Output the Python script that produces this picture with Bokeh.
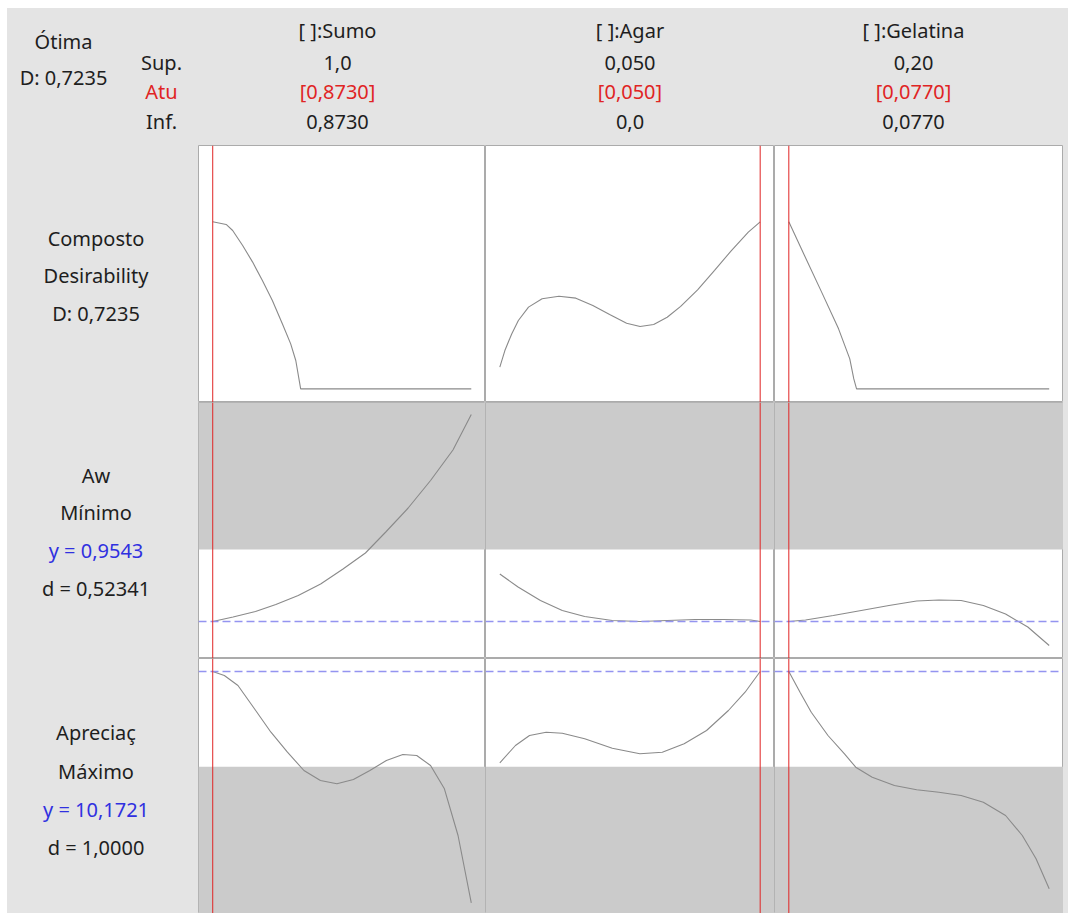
from bokeh.plotting import figure
from bokeh.models import Range1d, Span, BoxAnnotation, Spacer
from bokeh.layouts import row, column
from bokeh.embed import file_html
from bokeh.resources import INLINE
from bokeh.core.properties import value

# ---------------- data ----------------
factors = ["[ ]:Sumo", "[ ]:Agar", "[ ]:Gelatina"]
factor_low = [0.873, 0.0, 0.077]
factor_high = [1.0, 0.05, 0.20]
factor_cur = [0.873, 0.05, 0.077]
high_labels = ["1,0", "0,050", "0,20"]
cur_labels = ["[0,8730]", "[0,050]", "[0,0770]"]
low_labels = ["0,8730", "0,0", "0,0770"]

optimal_label = ["Ótima", "D: 0,7235"]
bound_labels = ["Sup.", "Atu", "Inf."]

row_labels = [
    ["Composto", "Desirability", "D: 0,7235"],
    ["Aw", "Mínimo", "y = 0,9543", "d = 0,52341"],
    ["Apreciaç", "Máximo", "y = 10,1721", "d = 1,0000"],
]

aw_y = 0.9543
aw_upper = 0.9687
apr_y = 10.1721
apr_lower = 8.266

# Composite desirability traces
comp_sumo_x = [0.873, 0.8796, 0.8828, 0.8877, 0.8926, 0.8974, 0.9023, 0.9072, 0.9113, 0.9138, 0.9162, 0.94, 0.97, 1.0]
comp_sumo_d = [0.7235, 0.712, 0.686, 0.621, 0.549, 0.469, 0.383, 0.282, 0.195, 0.123, 0.0, 0.0, 0.0, 0.0]
comp_agar_x = [0.0, 0.00097, 0.00228, 0.00356, 0.00551, 0.00812, 0.01136, 0.01461, 0.01786, 0.02109,
               0.02435, 0.02694, 0.02955, 0.03214, 0.03473, 0.03798, 0.04124, 0.04447, 0.04772, 0.05]
comp_agar_d = [0.094, 0.166, 0.238, 0.296, 0.354, 0.390, 0.401, 0.393, 0.361, 0.322,
               0.284, 0.270, 0.279, 0.310, 0.357, 0.429, 0.513, 0.599, 0.679, 0.7235]
comp_gel_x = [0.077, 0.0844, 0.0925, 0.1005, 0.1058, 0.1077, 0.109, 0.15, 0.2]
comp_gel_d = [0.7235, 0.578, 0.419, 0.260, 0.130, 0.043, 0.0, 0.0, 0.0]

# Aw traces
aw_sumo_x = [0.873, 0.883, 0.894, 0.904, 0.915, 0.926, 0.937, 0.948, 0.958, 0.969, 0.980, 0.991, 1.0]
aw_sumo_y = [0.9543, 0.9552, 0.9563, 0.9577, 0.9595, 0.9618, 0.9648, 0.9680, 0.9722, 0.9770, 0.9825, 0.9886, 0.9957]
aw_agar_x = [0.0, 0.0035, 0.0078, 0.012, 0.0163, 0.0216, 0.0269, 0.0322, 0.0375, 0.0429, 0.0482, 0.05]
aw_agar_y = [0.9638, 0.9612, 0.9585, 0.9565, 0.9553, 0.9545, 0.9543, 0.9545, 0.9547, 0.9547, 0.9546, 0.9543]
aw_gel_x = [0.077, 0.0849, 0.098, 0.1112, 0.1243, 0.1374, 0.1479, 0.1584, 0.1689, 0.1794, 0.1899, 0.2]
aw_gel_y = [0.9543, 0.9546, 0.9555, 0.9565, 0.9575, 0.9584, 0.9586, 0.9585, 0.9575, 0.9558, 0.9532, 0.9495]

# Apreciação traces
apr_sumo_x = [0.873, 0.8787, 0.8854, 0.8935, 0.9016, 0.9097, 0.9178, 0.9259, 0.934, 0.9421, 0.9502, 0.9583, 0.9664, 0.9732, 0.98, 0.9868, 0.9935, 1.0]
apr_sumo_y = [10.1721, 10.092, 9.892, 9.426, 8.958, 8.558, 8.192, 7.992, 7.926, 8.012, 8.192, 8.392, 8.512, 8.492, 8.292, 7.826, 6.892, 5.546]
apr_agar_x = [0.0, 0.003, 0.0057, 0.0089, 0.012, 0.0163, 0.0216, 0.0269, 0.0312, 0.0354, 0.0397, 0.0439, 0.0471, 0.05]
apr_agar_y = [8.346, 8.692, 8.892, 8.958, 8.938, 8.826, 8.638, 8.526, 8.558, 8.726, 8.992, 9.392, 9.758, 10.1721]
apr_gel_x = [0.077, 0.0823, 0.0876, 0.0955, 0.1033, 0.1086, 0.1164, 0.1269, 0.1374, 0.1479, 0.1584, 0.1689, 0.1794, 0.1873, 0.1938, 0.2]
apr_gel_y = [10.1721, 9.758, 9.358, 8.892, 8.526, 8.258, 8.058, 7.892, 7.806, 7.758, 7.692, 7.558, 7.292, 6.892, 6.426, 5.826]

curves = [
    [(comp_sumo_x, comp_sumo_d), (comp_agar_x, comp_agar_d), (comp_gel_x, comp_gel_d)],
    [(aw_sumo_x, aw_sumo_y), (aw_agar_x, aw_agar_y), (aw_gel_x, aw_gel_y)],
    [(apr_sumo_x, apr_sumo_y), (apr_agar_x, apr_agar_y), (apr_gel_x, apr_gel_y)],
]
row_yranges = [(-0.059, 1.054), (0.9469, 0.9981), (5.332, 10.432)]

# ---------------- style / layout ----------------
FONT = "Noto Sans"
FS = "20px"
BG = "#e4e4e4"
SHADE = "#cbcbcb"
TXT = "#1e1e1e"
RED = "#e02424"
BLUE = "#3030e0"
CURVE = "#8a8a8a"
OUTLINE = "#ababab"
DASH = "#9494f0"

PAD_L = 7
PAD_T = 8
LEFT_W = 191
RIGHT_W = 5
COL_W = [287, 289, 289]
HEAD_H = 137
ROW_H = [257, 256, 255]
XPAD = 0.055
HEAD_DX = [-4.5, 0, -5.5]


def blank(w, h, xr=(0, 1), yr=(1, 0)):
    p = figure(width=w, height=h, output_backend="svg", toolbar_location=None,
               x_range=Range1d(*xr), y_range=Range1d(*yr),
               x_axis_type=None, y_axis_type=None, min_border=0)
    p.grid.visible = False
    p.background_fill_color = BG
    p.border_fill_color = BG
    p.outline_line_color = None
    return p


def put_text(p, xs, ys, texts, color=TXT, align="center"):
    p.text(x=xs, y=ys, text=texts, text_font=value(FONT), text_font_size=FS,
           text_color=color, text_align=align, text_baseline="middle")


# header
hdr_left = blank(LEFT_W, HEAD_H, (0, LEFT_W), (HEAD_H, 0))
put_text(hdr_left, [56, 56], [33, 69], optimal_label)
put_text(hdr_left, [154, 154], [54, 113], [bound_labels[0], bound_labels[2]])
put_text(hdr_left, [154], [83], [bound_labels[1]], color=RED)

hdr_cols = []
for i, w in enumerate(COL_W):
    h = blank(w, HEAD_H, (0, w), (HEAD_H, 0))
    cx = w / 2 + HEAD_DX[i]
    put_text(h, [cx, cx, cx], [22, 54, 113], [factors[i], high_labels[i], low_labels[i]])
    put_text(h, [cx], [83], [cur_labels[i]], color=RED)
    hdr_cols.append(h)
hdr_right = blank(RIGHT_W, HEAD_H)
header = row(hdr_left, *hdr_cols, hdr_right, spacing=0, styles={"background-color": BG})

# rows
label_y = [[93, 130, 168], [73, 110, 148, 186], [74, 113, 151, 189]]
rows = []
for r in range(3):
    lab = blank(LEFT_W, ROW_H[r], (0, LEFT_W), (ROW_H[r], 0))
    for t, yy in zip(row_labels[r], label_y[r]):
        put_text(lab, [88.5], [yy], [t], color=BLUE if t.startswith("y =") else TXT)
    panels = []
    for c in range(3):
        lo, hi = factor_low[c], factor_high[c]
        span = hi - lo
        p = figure(width=COL_W[c], height=ROW_H[r], output_backend="svg", toolbar_location=None,
                   x_range=Range1d(lo - XPAD * span, hi + XPAD * span),
                   y_range=Range1d(*row_yranges[r]),
                   x_axis_type=None, y_axis_type=None, min_border=0)
        p.grid.visible = False
        p.background_fill_color = "white"
        p.border_fill_color = BG
        p.outline_line_color = OUTLINE
        p.outline_line_width = 1
        if r == 1:
            p.add_layout(BoxAnnotation(bottom=aw_upper, fill_color=SHADE, fill_alpha=1.0, line_color=None, level="underlay"))
        if r == 2:
            p.add_layout(BoxAnnotation(top=apr_lower, fill_color=SHADE, fill_alpha=1.0, line_color=None, level="underlay"))
        xs, ys_ = curves[r][c]
        p.line(xs, ys_, line_color=CURVE, line_width=1.1)
        if r == 1:
            p.add_layout(Span(location=aw_y, dimension="width", line_color=DASH, line_width=1.6, line_dash="8 4"))
        if r == 2:
            p.add_layout(Span(location=apr_y, dimension="width", line_color=DASH, line_width=1.6, line_dash="8 4"))
        p.add_layout(Span(location=factor_cur[c], dimension="height", line_color=RED, line_width=1))
        panels.append(p)
    right = blank(RIGHT_W, ROW_H[r])
    rows.append(row(lab, *panels, right, spacing=0, styles={"background-color": BG}))

grid = column(header, *rows, spacing=0, styles={"background-color": BG})
layout = column(Spacer(width=10, height=PAD_T), row(Spacer(width=PAD_L, height=10), grid, spacing=0), spacing=0)

open("out.html", "w").write(file_html(layout, INLINE))
